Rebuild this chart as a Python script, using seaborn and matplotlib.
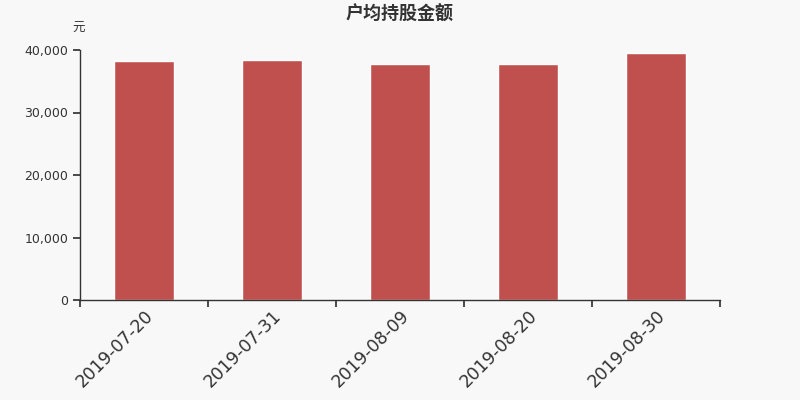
import matplotlib
matplotlib.use("Agg")
import matplotlib.pyplot as plt
import seaborn as sns
import pandas as pd
from matplotlib.ticker import FuncFormatter, FixedLocator

dates = ["2019-07-20", "2019-07-31", "2019-08-09", "2019-08-20", "2019-08-30"]
values = [38200, 38350, 37700, 37700, 39470]
title = "户均持股金额"
unit = "元"

sns.set_theme(style="white")
plt.rcParams['font.family'] = ['DejaVu Sans', 'Noto Sans CJK SC']

bg = "#f8f8f8"
fig = plt.figure(figsize=(8, 4), dpi=100, facecolor=bg)
ax = fig.add_axes([0.1, 0.25, 0.8, 0.625])
ax.set_facecolor(bg)

df = pd.DataFrame({"date": dates, "value": values})
sns.barplot(data=df, x="date", y="value", color="#c0504d", saturation=1,
            width=0.47, ax=ax)

ax.set_xlim(-0.5, len(dates) - 0.5)
ax.set_ylim(0, 40000)
ax.set_yticks([0, 10000, 20000, 30000, 40000])
ax.yaxis.set_major_formatter(FuncFormatter(lambda v, p: f"{int(v):,}"))

# boundaries ticks (major) and centered labels (minor)
ax.xaxis.set_major_locator(FixedLocator([i - 0.5 for i in range(len(dates) + 1)]))
ax.set_xticklabels([""] * (len(dates) + 1))
ax.xaxis.set_minor_locator(FixedLocator(list(range(len(dates)))))
ax.set_xticklabels(dates, minor=True, rotation=45, ha="right", rotation_mode="anchor",
                   fontsize=12.5, color="#333333")
ax.tick_params(axis="x", which="major", length=5, color="#333333", direction="out", bottom=True)
ax.tick_params(axis="x", which="minor", length=0, pad=5)
ax.tick_params(axis="y", length=5, color="#333333", labelsize=9, labelcolor="#333333",
               direction="out", left=True)

for s in ["top", "right"]:
    ax.spines[s].set_visible(False)
for s in ["left", "bottom"]:
    ax.spines[s].set_color("#333333")
    ax.spines[s].set_linewidth(1)

ax.set_xlabel("")
ax.set_ylabel("")
ax.grid(False)

fig.text(0.5, 0.963, title, ha="center", va="center", fontsize=13, fontweight="bold",
         color="#333333")
fig.text(0.098, 0.928, unit, ha="center", va="center", fontsize=9, color="#333333")

fig.savefig("out.png", dpi=100, facecolor=bg)
